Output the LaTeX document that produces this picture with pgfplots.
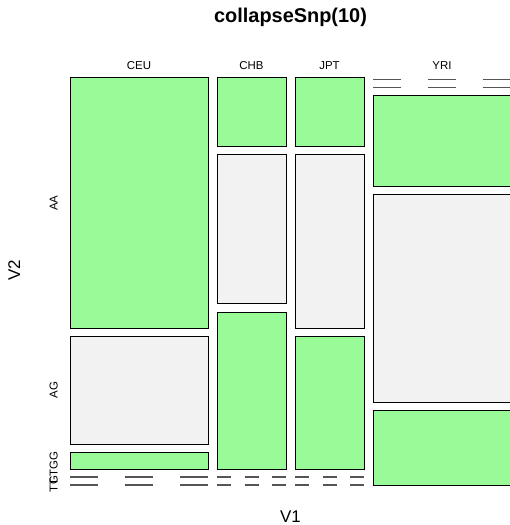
\documentclass[border=0pt]{standalone}
\usepackage{pgfplots}
\pgfplotsset{compat=1.18}
\usepackage{fontspec}
\setmainfont{Liberation Sans}
\definecolor{pgreen}{HTML}{98FB98}
\definecolor{pgrey}{HTML}{F2F2F2}
\definecolor{dashgrey}{HTML}{555555}
% cell: x1 x2 y1 y2 colour
\newcommand{\cell}[5]{\addplot[fill=#5,draw=black,line width=1bp] coordinates {(#1,#3) (#2,#3) (#2,#4) (#1,#4)} -- cycle;}
% empty cell: x1 x2 y dashlength gaplength
\newcommand{\zero}[5]{\addplot[draw=dashgrey,line width=1.1bp,dash pattern=on #4bp off #5bp] coordinates {(#1,#3) (#2,#3)};}
\begin{document}
\begin{tikzpicture}[every node/.style={inner sep=0pt}]
\begin{axis}[name=ax,
  scale only axis, width=510bp, height=525bp,
  xmin=0, xmax=510, ymin=0, ymax=525, y dir=reverse,
  axis lines=none, ticks=none, clip=true,
]
% CEU
\cell{70}{208}{78}{328}{pgreen}
\cell{70}{208}{336}{444}{pgrey}
\cell{70}{208}{452}{469}{pgreen}
\zero{70}{208}{477}{28}{27}
\zero{70}{208}{485}{28}{27}
% CHB
\cell{217}{286}{78}{146}{pgreen}
\cell{217}{286}{154}{303}{pgrey}
\cell{217}{286}{312}{469}{pgreen}
\zero{217}{286}{477}{14}{13.5}
\zero{217}{286}{485}{14}{13.5}
% JPT
\cell{295}{364}{78}{146}{pgreen}
\cell{295}{364}{154}{328}{pgrey}
\cell{295}{364}{336}{469}{pgreen}
\zero{295}{364}{477}{14}{13.5}
\zero{295}{364}{485}{14}{13.5}
% YRI
\zero{373}{512}{79.5}{28}{27}
\zero{373}{512}{87.5}{28}{27}
\cell{373}{512}{96}{186}{pgreen}
\cell{373}{512}{194}{402}{pgrey}
\cell{373}{512}{410}{485}{pgreen}
% texts
\node[anchor=base,font=\fontsize{20}{24}\selectfont\bfseries] at (axis cs:290.5,23) {collapseSnp(10)};
\node[anchor=base,font=\fontsize{11.5}{13}\selectfont] at (axis cs:139,69.5) {CEU};
\node[anchor=base,font=\fontsize{11.5}{13}\selectfont] at (axis cs:251.5,69.5) {CHB};
\node[anchor=base,font=\fontsize{11.5}{13}\selectfont] at (axis cs:329.5,69.5) {JPT};
\node[anchor=base,font=\fontsize{11.5}{13}\selectfont] at (axis cs:442,69.5) {YRI};
\node[anchor=base,rotate=90,font=\fontsize{11.5}{13}\selectfont] at (axis cs:57.5,203) {AA};
\node[anchor=base,rotate=90,font=\fontsize{11.5}{13}\selectfont] at (axis cs:57.5,390) {AG};
\node[anchor=base,rotate=90,font=\fontsize{11.5}{13}\selectfont] at (axis cs:57.5,460.5) {GG};
\node[anchor=base,rotate=90,font=\fontsize{11.5}{13}\selectfont] at (axis cs:57.5,477) {GT};
\node[anchor=base,rotate=90,font=\fontsize{11.5}{13}\selectfont] at (axis cs:57.5,485) {TT};
\node[anchor=base,font=\fontsize{17}{20}\selectfont] at (axis cs:290.5,522.5) {V1};
\node[anchor=base,rotate=90,font=\fontsize{17}{20}\selectfont] at (axis cs:20,270) {V2};
\end{axis}
\pgfresetboundingbox
\path (ax.south west) rectangle (ax.north east);
\end{tikzpicture}
\end{document}
